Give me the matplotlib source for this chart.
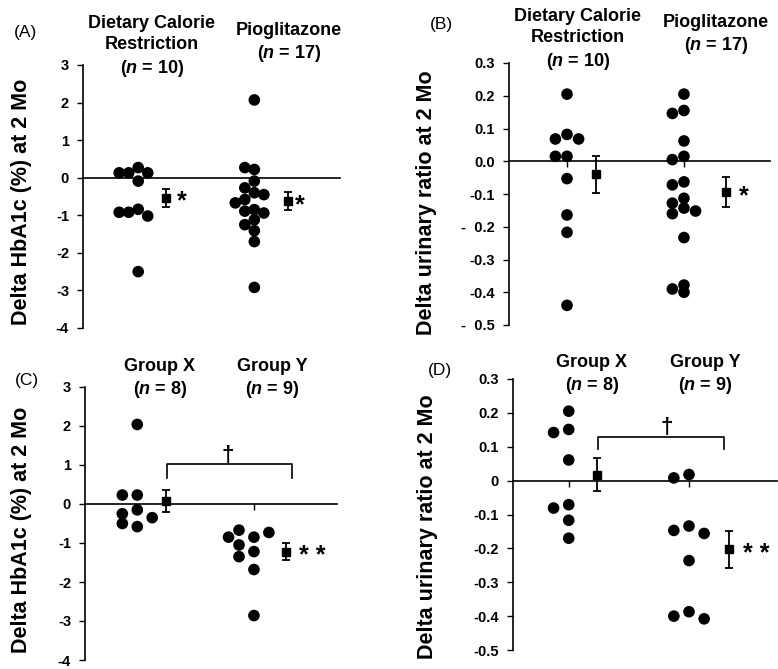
import matplotlib.pyplot as plt

plt.rcParams['font.family'] = ['Liberation Sans', 'DejaVu Sans']
plt.rcParams['mathtext.fontset'] = 'custom'
plt.rcParams['mathtext.it'] = 'Liberation Sans:italic:bold'
plt.rcParams['mathtext.rm'] = 'Liberation Sans:bold'

# ---- data ----
# (A) delta HbA1c, Dietary calorie restriction vs Pioglitazone
a_diet = [0.13, 0.13, 0.27, -0.09, 0.13, -0.92, -0.92, -0.84, -1.02, -2.50]
a_diet_col = [-2, -1, 0, 0, 1, -2, -1, 0, 1, 0]
a_pio = [2.07, 0.27, 0.22, -0.09, -0.40, -0.27, -0.45, -0.67, -0.58,
         -0.89, -0.85, -0.94, -1.12, -1.25, -1.41, -1.70, -2.92]
a_pio_col = [0, -1, 0, 0, 0, -1, 1, -2, -1, -1, 0, 1, 0, -1, 0, 0, 0]
a_mean = [-0.53, -0.63]
a_sem = [0.24, 0.24]

# (B) delta urinary ratio, same groups
b_diet = [0.205, 0.082, 0.015, -0.053, -0.164, -0.217, -0.44, 0.068, 0.015, 0.068]
b_diet_col = [0, 0, 0, 0, 0, 0, 0, -1, -1, 1]
b_pio = [0.146, 0.005, -0.072, -0.128, -0.16, -0.39,
         0.205, 0.155, 0.062, 0.015, -0.063, -0.113, -0.143, -0.233, -0.378, -0.40,
         -0.152]
b_pio_col = [-1, -1, -1, -1, -1, -1, 0, 0, 0, 0, 0, 0, 0, 0, 0, 0, 1]
b_mean = [-0.04, -0.093]
b_sem = [0.057, 0.046]

# (C) delta HbA1c, Group X vs Group Y
c_x = [0.23, -0.25, -0.50, 2.04, 0.23, -0.15, -0.58, -0.35]
c_x_col = [-1, -1, -1, 0, 0, 0, 0, 1]
c_y = [-0.85, -0.67, -1.05, -1.35, -0.85, -1.22, -1.68, -2.86, -0.73]
c_y_col = [-1.7, -1, -1, -1, 0, 0, 0, 0, 1]
c_mean = [0.08, -1.22]
c_sem = [0.28, 0.21]

# (D) delta urinary ratio, Group X vs Group Y
d_x = [0.205, 0.151, 0.061, -0.071, -0.117, -0.17, 0.142, -0.081]
d_x_col = [0, 0, 0, 0, 0, 0, -1, -1]
d_y = [0.008, -0.147, -0.40, 0.018, -0.134, -0.236, -0.387, -0.156, -0.408]
d_y_col = [-1, -1, -1, 0, 0, 0, 0, 1, 1]
d_mean = [0.018, -0.203]
d_sem = [0.05, 0.055]

hba1c_ticks = [3, 2, 1, 0, -1, -2, -3, -4]
ratio_ticks = [0.3, 0.2, 0.1, 0.0, -0.1, -0.2, -0.3, -0.4, -0.5]
b_ticklabels = ['0.3', '0.2', '0.1', '0.0', '-0.1', '-  0.2', '-0.3', '-0.4', '-  0.5']
d_ticklabels = ['0.3', '0.2', '0.1', '0', '-0.1', '-0.2', '-0.3', '-0.4', '-0.5']

W, H = 778, 669
fig = plt.figure(figsize=(W / 100, H / 100), dpi=100)


def px_axes(left, right, top, bottom):
    return fig.add_axes([left / W, 1 - bottom / H, (right - left) / W, (bottom - top) / H])


def panel(ax, groups, cols, means, sems, centers, mpos, step, ylim, yticks, yticklabels,
          ylabel, ylabel_xy, marks, mark_x):
    for vals, col, c in zip(groups, cols, centers):
        ax.scatter([c + k * step for k in col], vals, s=70, color='black',
                   edgecolors='none', clip_on=False, zorder=3)
    ax.errorbar(mpos, means, yerr=sems, fmt='s', color='black', ms=6,
                capsize=3, elinewidth=1.3, capthick=1.3, zorder=3, clip_on=False)
    for x, m, s in zip(mark_x, means, marks):
        if s:
            ax.annotate(s, (x, m), xytext=(0, -8), textcoords='offset points',
                        fontsize=18, fontweight='bold', ha='center', va='baseline')
    ax.set_xlim(0, 27)
    ax.set_ylim(*ylim)
    ax.set_yticks(yticks)
    ax.set_yticklabels(yticklabels, fontsize=10.5, fontweight='bold')
    ax.set_xticks(centers)
    ax.tick_params(axis='x', direction='out', length=4, width=1, labelbottom=False)
    ax.tick_params(axis='y', direction='out', length=4, width=1, pad=6)
    for side in ['top', 'right']:
        ax.spines[side].set_visible(False)
    ax.spines['bottom'].set_position(('data', 0))
    ax.spines['left'].set_linewidth(1.2)
    ax.spines['bottom'].set_linewidth(1.2)
    ax.set_ylabel(ylabel, fontsize=15.5, fontweight='bold')
    ax.yaxis.set_label_coords(*ylabel_xy)


axA = px_axes(83, 340, 65, 328)
panel(axA, [a_diet, a_pio], [a_diet_col, a_pio_col], a_mean, a_sem,
      [5.8, 18.0], [8.7, 21.5], 1.0, (-4, 3), hba1c_ticks, [str(t) for t in hba1c_ticks],
      'Delta HbA1c (%) at 2 Mo', (-0.198, 0.48), ['*', '*'], [10.4, 22.8])

axB = px_axes(509, 770, 63, 325)
panel(axB, [b_diet, b_pio], [b_diet_col, b_pio_col], b_mean, b_sem,
      [6.0, 18.1], [9.0, 22.5], 1.2, (-0.5, 0.3), ratio_ticks, b_ticklabels,
      'Delta urinary ratio at 2 Mo', (-0.276, 0.466), [None, '*'], [None, 24.3])

axC = px_axes(85, 337, 387, 660)
panel(axC, [c_x, c_y], [c_x_col, c_y_col], c_mean, c_sem,
      [5.6, 18.1], [8.7, 21.5], 1.6, (-4, 3), hba1c_ticks, [str(t) for t in hba1c_ticks],
      'Delta HbA1c (%) at 2 Mo', (-0.21, 0.476), [None, '* *'], [None, 24.4])

axD = px_axes(513, 777, 379, 650)
panel(axD, [d_x, d_y], [d_x_col, d_y_col], d_mean, d_sem,
      [5.7, 18.0], [8.6, 22.1], 1.55, (-0.5, 0.3), ratio_ticks, d_ticklabels,
      'Delta urinary ratio at 2 Mo', (-0.284, 0.454), [None, '* *'], [None, 24.9])

# significance brackets between groups
for ax, x0, x1, top, leg, xd in [(axC, 8.8, 22.2, 1.02, 0.66, 15.3),
                                 (axD, 8.7, 21.6, 0.13, 0.094, 15.7)]:
    ax.plot([x0, x0, x1, x1], [leg, top, top, leg], color='black', lw=1.2)
    ax.annotate('\u2020', (xd, top), xytext=(0, -1), textcoords='offset points',
                fontsize=16, fontweight='bold', ha='center', va='bottom')

# group headers and panel letters
hdr = dict(fontsize=13, fontweight='bold', ha='center', va='center', linespacing=1.3)
fig.text(152 / W, 1 - 47 / H, 'Dietary Calorie\nRestriction\n($\\mathit{n}$ = 10)', **hdr)
fig.text(289 / W, 1 - 43 / H, 'Pioglitazone\n($\\mathit{n}$ = 17)', **hdr)
fig.text(578 / W, 1 - 40 / H, 'Dietary Calorie\nRestriction\n($\\mathit{n}$ = 10)', **hdr)
fig.text(716 / W, 1 - 35 / H, 'Pioglitazone\n($\\mathit{n}$ = 17)', **hdr)
fig.text(160 / W, 1 - 379 / H, 'Group X\n($\\mathit{n}$ = 8)', **hdr)
fig.text(272 / W, 1 - 379 / H, 'Group Y\n($\\mathit{n}$ = 9)', **hdr)
fig.text(592 / W, 1 - 375 / H, 'Group X\n($\\mathit{n}$ = 8)', **hdr)
fig.text(705 / W, 1 - 375 / H, 'Group Y\n($\\mathit{n}$ = 9)', **hdr)

for lab, x, y in [('(A)', 26, 32), ('(B)', 441, 25), ('(C)', 27, 381), ('(D)', 440, 370)]:
    fig.text(x / W, 1 - y / H, lab, fontsize=12.5, ha='center', va='center')

fig.savefig('out.png', dpi=100)
